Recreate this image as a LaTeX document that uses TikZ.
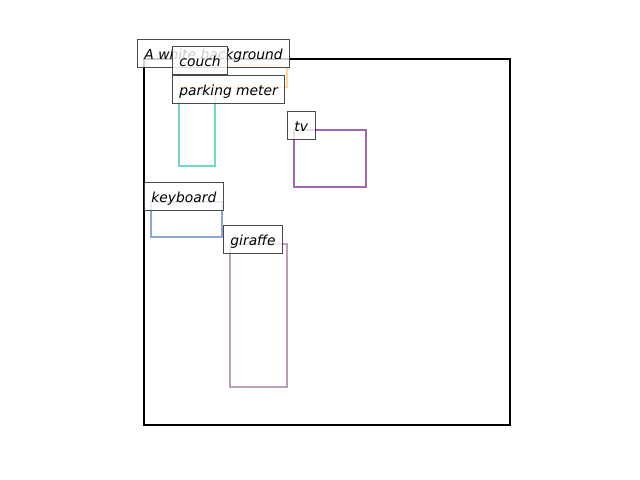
\documentclass[tikz,border=0pt]{standalone}
\usepackage{fontspec}
\setmainfont{DejaVu Sans}
\usepackage{xcolor}
\definecolor{couchcol}{RGB}{255,214,160}
\definecolor{metercol}{RGB}{112,216,196}
\definecolor{tvcol}{RGB}{160,104,176}
\definecolor{keycol}{RGB}{140,166,214}
\definecolor{giraffecol}{RGB}{186,160,184}
\tikzset{
    objbox/.style={line width=1.7pt},
    tag/.style={anchor=south west, fill=white, fill opacity=0.8, text opacity=1,
        draw=black, draw opacity=0.7, line width=0.6pt, inner xsep=0.07in,
        inner ysep=0pt, text height=10pt, text depth=2pt,
        minimum height=0.28in, font=\itshape\fontsize{10}{12}\selectfont},
}

\begin{document}
\begin{tikzpicture}[x=0.01in, y=-0.01in]
    \useasboundingbox (0,0) rectangle (640,480);
    \draw[objbox, black] (144,59) rectangle (510,425);
    \draw[objbox, couchcol] (179,65) rectangle (287,87);
    \draw[objbox, metercol] (179,94) rectangle (215,166);
    \draw[objbox, tvcol] (294,130) rectangle (366,187);
    \draw[objbox, keycol] (151,202) rectangle (222,237);
    \draw[objbox, giraffecol] (230,244) rectangle (287,387);

    \node[tag] (bg) at (137,68) {A white background};
    \node[tag] (couch) at (172,75) {couch};
    \node[tag] (meter) at (172,104) {parking meter};
    \node[tag] (tv) at (287,140) {tv};
    \node[tag] (keyboard) at (144,211) {keyboard};
    \node[tag] (giraffe) at (223,254) {giraffe};
\end{tikzpicture}
\end{document}
